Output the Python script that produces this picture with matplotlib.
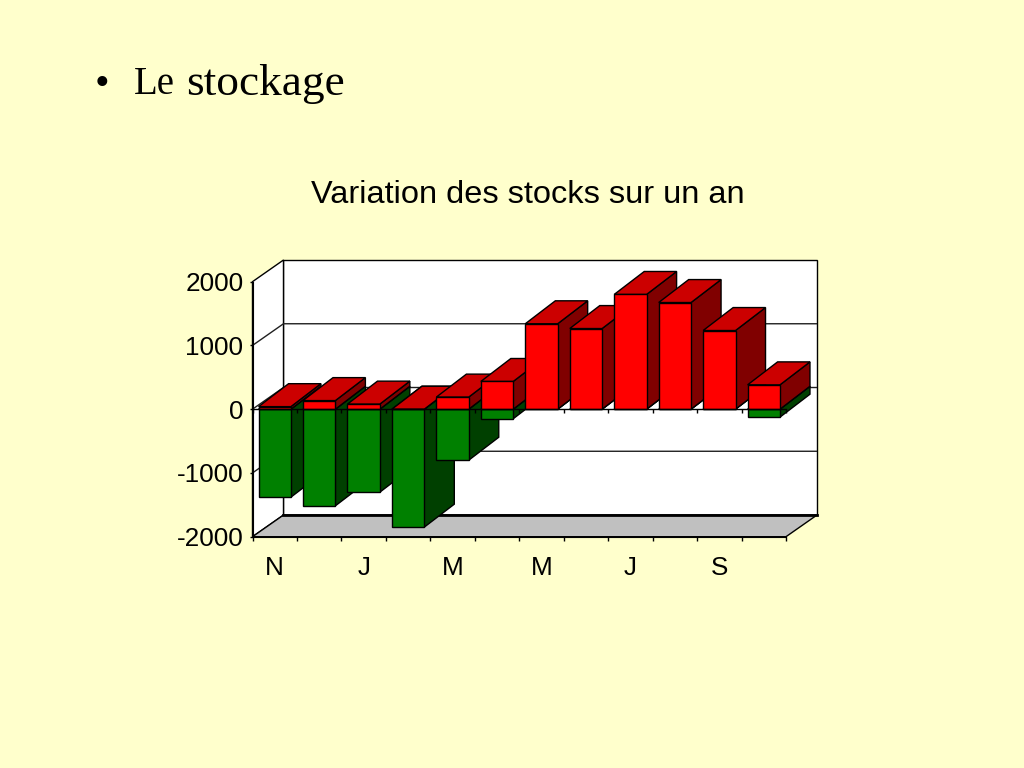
import numpy as np
import matplotlib
matplotlib.use('Agg')
import matplotlib.pyplot as plt
from matplotlib.patches import Polygon

plt.rcParams['font.family'] = ['Liberation Sans', 'DejaVu Sans']

months = ['N', 'D', 'J', 'F', 'M', 'A', 'M', 'J', 'J', 'A', 'S', 'O']
shown = ['N', '', 'J', '', 'M', '', 'M', '', 'J', '', 'S', '']
destock = [-1380, -1516, -1302, -1850, -800, -150, 0, 0, 0, 0, 0, -125]
restock = [40, 135, 80, 0, 190, 435, 1340, 1265, 1800, 1673, 1234, 382]
yticks = [-2000, -1000, 0, 1000, 2000]

BG = '#FFFFCC'
WALL_DX, WALL_DY = 0.697, 340
BAR_DX, BAR_DY = 0.675, 360
GAP, WIDTH = 0.136, 0.728
LW = 1.0


def poly(ax, pts, color, z):
    ax.add_patch(Polygon(pts, closed=True, facecolor=color, edgecolor='black',
                         linewidth=LW, zorder=z, clip_on=False))


def box(ax, x0, y0, y1, front, top, side, z):
    x1 = x0 + WIDTH
    poly(ax, [(x1, y0), (x1 + BAR_DX, y0 + BAR_DY), (x1 + BAR_DX, y1 + BAR_DY), (x1, y1)], side, z)
    poly(ax, [(x0, y1), (x1, y1), (x1 + BAR_DX, y1 + BAR_DY), (x0 + BAR_DX, y1 + BAR_DY)], top, z)
    poly(ax, [(x0, y0), (x1, y0), (x1, y1), (x0, y1)], front, z)


fig = plt.figure(figsize=(10.24, 7.68), dpi=100, facecolor=BG)
ax = fig.add_axes([252.5 / 1024, (768 - 536.7) / 768, (817 - 252.5) / 1024, (536.7 - 260) / 768])
ax.set_facecolor('none')
ax.set_xlim(0, 12 + WALL_DX)
ax.set_ylim(-2000, 2000 + WALL_DY)

# walls and floor
poly(ax, [(WALL_DX, -2000 + WALL_DY), (12 + WALL_DX, -2000 + WALL_DY),
          (12 + WALL_DX, 2000 + WALL_DY), (WALL_DX, 2000 + WALL_DY)], 'white', 1)
poly(ax, [(0, -2000), (WALL_DX, -2000 + WALL_DY), (WALL_DX, 2000 + WALL_DY), (0, 2000)], 'white', 1)
poly(ax, [(0, -2000), (12, -2000), (12 + WALL_DX, -2000 + WALL_DY), (WALL_DX, -2000 + WALL_DY)], '#C0C0C0', 2)
ax.plot([WALL_DX, 12 + WALL_DX], [-2000 + WALL_DY] * 2, color='black', lw=2, zorder=3, clip_on=False)

# gridlines on the back and side walls
for v in yticks[1:-1]:
    ax.plot([0, WALL_DX, 12 + WALL_DX], [v, v + WALL_DY, v + WALL_DY], color='#202020', lw=LW, zorder=3)

# bars, back to front is left to right
for i in range(len(months)):
    x0 = i + GAP
    z = 10 + i * 2
    box(ax, x0, destock[i], 0, '#008000', '#006000', '#004000', z)
    box(ax, x0, 0, restock[i], '#FF0000', '#CC0000', '#800000', z + 1)

# category axis at zero
ax.plot([0, 12], [0, 0], color='black', lw=LW, zorder=40)
ax.vlines(np.arange(13), -60, 0, color='black', lw=LW, zorder=40)

for s in ['top', 'right']:
    ax.spines[s].set_visible(False)
ax.spines['left'].set_bounds(-2000, 2000)
ax.spines['bottom'].set_bounds(0, 12)
ax.spines['left'].set_zorder(5)
ax.spines['bottom'].set_zorder(5)

ax.set_yticks(yticks)
ax.set_yticklabels([str(v) for v in yticks], fontsize=18.8)
ax.tick_params(axis='y', length=2.5, width=1, pad=4)
ax.set_xticks(np.arange(13))
ax.set_xticklabels([])
ax.set_xticks(np.arange(12) + 0.5, minor=True)
ax.set_xticklabels(shown, minor=True, fontsize=18.8)
ax.tick_params(axis='x', which='major', length=3, width=1)
ax.tick_params(axis='x', which='minor', length=0, pad=14)

fig.text(528 / 1024, 1 - 195 / 768, 'Variation des stocks sur un an', fontsize=23.4,
         ha='center', va='center')

serif = ['Liberation Serif', 'DejaVu Serif']
fig.text(95 / 1024, 1 - 94.5 / 768, '•', fontsize=30, family=serif, va='baseline')
fig.text(134 / 1024, 1 - 94.5 / 768, 'Le', fontsize=28, family=serif, va='baseline')
fig.text(186 / 1024, 1 - 94.5 / 768, 'stockage', fontsize=32.6, family=serif, va='baseline')

fig.savefig('out.png', dpi=100, facecolor=BG)
